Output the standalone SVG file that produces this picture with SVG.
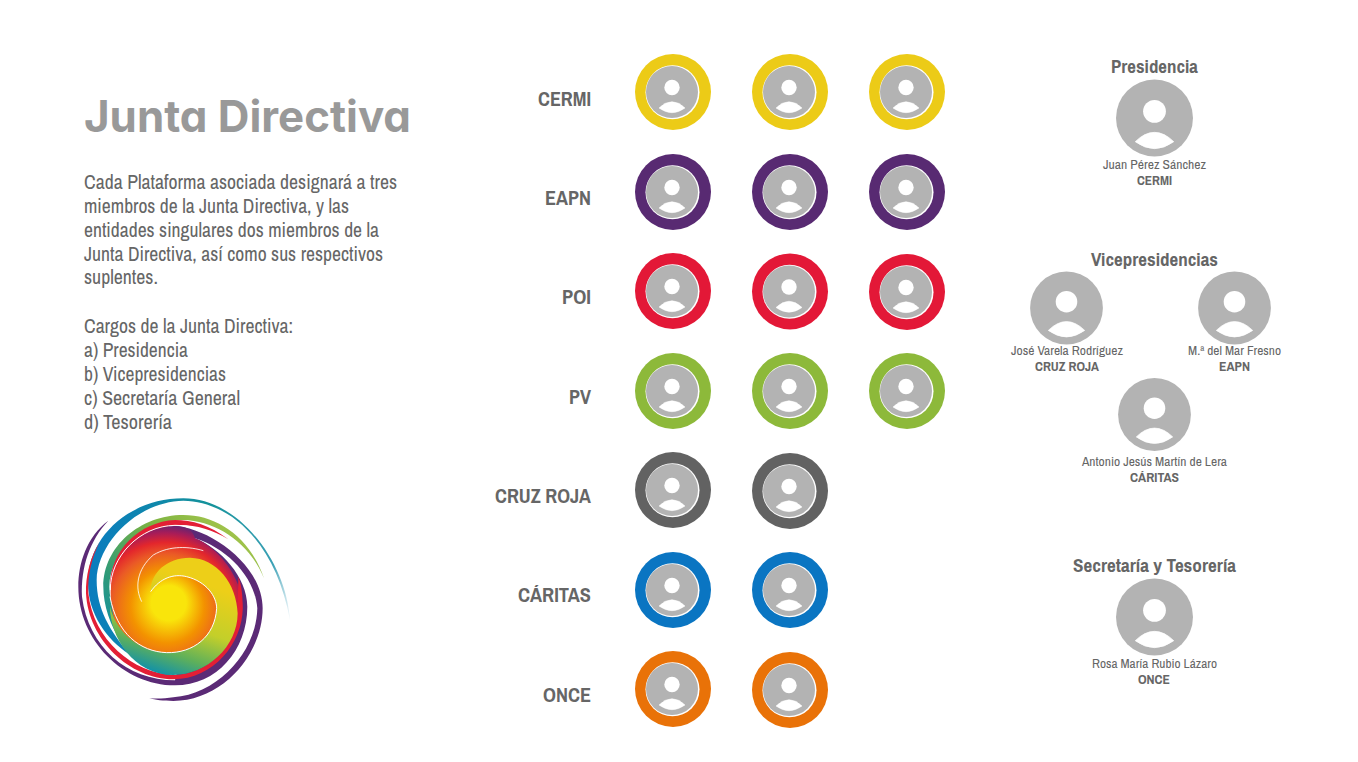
<svg xmlns="http://www.w3.org/2000/svg" xmlns:xlink="http://www.w3.org/1999/xlink" width="1358" height="762" viewBox="0 0 1358 762">
<style>
text{font-family:"Liberation Sans Narrow","Archivo Narrow","Liberation Sans",sans-serif;fill:#666}
.t{font-family:Inter,"Liberation Sans",sans-serif;font-weight:700;font-size:44px;fill:#999;font-variant-ligatures:none;font-feature-settings:"cv11"}
.b{font-size:20px}
.l{font-size:20px;font-weight:700}
.h{font-size:18.5px;font-weight:700}
.n{font-size:12.5px}
.o{font-size:12.5px;font-weight:700}
.g{fill:#b3b3b3}
.w{fill:#fff}
.y{fill:#eccb17}.p{fill:#582a72}.r{fill:#e31837}.v{fill:#8db93a}.d{fill:#626262}.a{fill:#0a75c2}.e{fill:#e97208}
</style>
<defs>
<g id="av"><circle class="g" r="26"/><circle class="w" cy="-4.500" r="7.700"/><path class="w" stroke="#fff" stroke-width=".5" d="M-13,16Q0,3.400 13,16Q0,25.400 -13,16Z"/></g>
<g id="ring"><circle class="w" cx="-.5" cy=".3" r="27"/><use xlink:href="#av" x="-1"/></g>
<radialGradient id="core" gradientUnits="userSpaceOnUse" cx="310" cy="410" r="290" fx="330" fy="360"><stop offset=".18" stop-color="#f9e50b"/><stop offset=".38" stop-color="#f39200"/><stop offset=".58" stop-color="#ea5a26"/><stop offset=".72" stop-color="#e3262c"/><stop offset=".84" stop-color="#a81c58"/><stop offset=".95" stop-color="#5e2574"/></radialGradient>
<linearGradient id="sw" gradientUnits="userSpaceOnUse" x1="400" y1="300" x2="300" y2="590"><stop offset="0" stop-color="#edcf18"/><stop offset=".45" stop-color="#c3cf2a"/><stop offset=".75" stop-color="#5fb05a"/><stop offset="1" stop-color="#0a8eb0"/></linearGradient>
<linearGradient id="bl" gradientUnits="userSpaceOnUse" x1="100" y1="300" x2="690" y2="350"><stop offset="0" stop-color="#0a7dbd"/><stop offset=".55" stop-color="#14929a"/><stop offset=".9" stop-color="#3aa0b5"/><stop offset="1" stop-color="#e6f2f7"/></linearGradient>
<linearGradient id="gr" gradientUnits="userSpaceOnUse" x1="170" y1="540" x2="500" y2="150"><stop offset="0" stop-color="#0a8eb0"/><stop offset=".35" stop-color="#2f9a78"/><stop offset=".75" stop-color="#7cb342"/><stop offset="1" stop-color="#9ec24a"/></linearGradient>
</defs>
<rect width="1358" height="762" fill="#fff"/>
<g id="intro">
<text class="t" x="84" y="132" textLength="327" lengthAdjust="spacingAndGlyphs">Junta Directiva</text>
<text class="b" x="84" y="189.200" textLength="313" lengthAdjust="spacingAndGlyphs">Cada Plataforma asociada designará a tres</text>
<text class="b" x="84" y="213" textLength="265" lengthAdjust="spacingAndGlyphs">miembros de la Junta Directiva, y las</text>
<text class="b" x="84" y="236.800" textLength="295" lengthAdjust="spacingAndGlyphs">entidades singulares dos miembros de la</text>
<text class="b" x="84" y="260.600" textLength="299" lengthAdjust="spacingAndGlyphs">Junta Directiva, así como sus respectivos</text>
<text class="b" x="84" y="284.400" textLength="74" lengthAdjust="spacingAndGlyphs">suplentes.</text>
<text class="b" x="84" y="333" textLength="209" lengthAdjust="spacingAndGlyphs">Cargos de la Junta Directiva:</text>
<text class="b" x="84" y="357" textLength="104" lengthAdjust="spacingAndGlyphs">a) Presidencia</text>
<text class="b" x="84" y="381" textLength="142" lengthAdjust="spacingAndGlyphs">b) Vicepresidencias</text>
<text class="b" x="84" y="405" textLength="156" lengthAdjust="spacingAndGlyphs">c) Secretaría General</text>
<text class="b" x="84" y="429" textLength="88" lengthAdjust="spacingAndGlyphs">d) Tesorería</text>
</g>
<g id="logo" transform="translate(60 480) scale(.3333)">
<path fill="url(#bl)" d="M690,420C680,250 540,55 370,55C200,55 80,180 84,310C84,400 140,480 207,522C150,450 110,390 110,300C112,190 230,65 370,62C520,65 650,200 690,420Z"/>
<path fill="url(#gr)" d="M612,295C570,170 470,105 370,105C240,105 130,200 130,320C130,430 210,570 340,590C240,520 150,430 148,320C150,210 260,122 370,120C470,122 570,190 612,295Z"/>
<path fill="#5b2a76" d="M145,122C80,170 55,250 55,320C55,480 190,616 345,616C470,616 562,510 562,380C562,290 480,205 405,175L420,300L345,601C200,600 85,500 66,350C62,260 90,180 145,122Z"/>
<path fill="#5b2a76" d="M340,138C440,140 608,250 608,385C608,520 490,663 340,663C310,663 285,660 268,655C290,656 315,656 340,652C480,640 590,510 592,385C585,290 500,205 405,175L340,170Z"/>
<path fill="#e31f35" d="M505,178C450,135 395,120 345,120C240,125 150,210 150,320L175,320C180,220 260,140 360,135C410,135 460,150 505,178Z"/>
<path fill="url(#core)" d="M152,340C150,230 240,138 345,138C380,138 400,150 405,175C470,200 548,290 548,385C540,500 440,580 340,580C220,570 152,450 152,340Z"/>
<path fill="#e31f35" d="M120,185C90,230 76,290 78,340C85,480 210,598 340,598C460,598 548,490 548,385C548,345 545,315 535,290C535,320 533,360 533,400C530,500 440,585 340,585C220,580 100,480 85,340C82,290 95,230 120,185Z"/>
<path fill="url(#sw)" d="M272,335C300,295 340,280 380,290C440,305 470,350 470,385C465,470 400,520 320,518C240,515 170,460 150,380C150,470 220,585 340,585C440,585 533,500 533,400C530,310 470,235 390,233C320,233 270,280 272,335Z"/>
<path fill="none" stroke="#fff" stroke-width="3" d="M272,335C300,295 340,280 380,290C440,305 470,350 470,385C465,470 400,520 320,518C240,515 170,460 150,350"/>
<path fill="none" stroke="#fff" stroke-width="2.500" d="M245,365C225,325 228,270 280,225C330,195 390,200 430,212"/>
<path fill="none" stroke="#fff" stroke-width="3" d="M151,330C150,230 240,137 345,136C375,136 395,140 420,148"/>
</g>
<g id="labels">
<text class="l" x="538" y="106" textLength="53" lengthAdjust="spacingAndGlyphs">CERMI</text>
<text class="l" x="545" y="205" textLength="46" lengthAdjust="spacingAndGlyphs">EAPN</text>
<text class="l" x="562" y="304" textLength="29" lengthAdjust="spacingAndGlyphs">POI</text>
<text class="l" x="569" y="404" textLength="22" lengthAdjust="spacingAndGlyphs">PV</text>
<text class="l" x="495" y="503" textLength="96" lengthAdjust="spacingAndGlyphs">CRUZ ROJA</text>
<text class="l" x="518" y="602" textLength="73" lengthAdjust="spacingAndGlyphs">CÁRITAS</text>
<text class="l" x="543" y="702" textLength="48" lengthAdjust="spacingAndGlyphs">ONCE</text>
</g>
<g id="cermi"><circle class="y" cx="673" cy="92" r="38"/><use xlink:href="#ring" x="673" y="92"/><circle class="y" cx="790" cy="92" r="38"/><use xlink:href="#ring" x="790" y="92"/><circle class="y" cx="907" cy="92" r="38"/><use xlink:href="#ring" x="907" y="92"/></g>
<g id="eapn"><circle class="p" cx="673" cy="192" r="38"/><use xlink:href="#ring" x="673" y="192"/><circle class="p" cx="790" cy="192" r="38"/><use xlink:href="#ring" x="790" y="192"/><circle class="p" cx="907" cy="192" r="38"/><use xlink:href="#ring" x="907" y="192"/></g>
<g id="poi"><circle class="r" cx="673" cy="291" r="38"/><use xlink:href="#ring" x="673" y="291"/><circle class="r" cx="790" cy="291.500" r="38"/><use xlink:href="#ring" x="790" y="291.500"/><circle class="r" cx="907" cy="292" r="38"/><use xlink:href="#ring" x="907" y="292"/></g>
<g id="pv"><circle class="v" cx="673" cy="391" r="38"/><use xlink:href="#ring" x="673" y="391"/><circle class="v" cx="790" cy="391" r="38"/><use xlink:href="#ring" x="790" y="391"/><circle class="v" cx="907" cy="391" r="38"/><use xlink:href="#ring" x="907" y="391"/></g>
<g id="cruzroja"><circle class="d" cx="673" cy="490" r="38"/><use xlink:href="#ring" x="673" y="490"/><circle class="d" cx="790" cy="491" r="38"/><use xlink:href="#ring" x="790" y="491"/></g>
<g id="caritas"><circle class="a" cx="673" cy="590" r="38"/><use xlink:href="#ring" x="673" y="590"/><circle class="a" cx="790" cy="590" r="38"/><use xlink:href="#ring" x="790" y="590"/></g>
<g id="once"><circle class="e" cx="673" cy="689" r="38"/><use xlink:href="#ring" x="673" y="689"/><circle class="e" cx="790" cy="690" r="38"/><use xlink:href="#ring" x="790" y="690"/></g>
<g id="presidencia">
<text class="h" x="1111" y="73" textLength="87" lengthAdjust="spacingAndGlyphs">Presidencia</text>
<use xlink:href="#av" transform="translate(1154.500 118) scale(1.48)"/>
<text class="n" x="1103" y="169" textLength="103" lengthAdjust="spacingAndGlyphs">Juan Pérez Sánchez</text>
<text class="o" x="1137" y="185" textLength="35" lengthAdjust="spacingAndGlyphs">CERMI</text>
</g>
<g id="vicepresidencias">
<text class="h" x="1091" y="266" textLength="127" lengthAdjust="spacingAndGlyphs">Vicepresidencias</text>
<use xlink:href="#av" transform="translate(1066.500 308) scale(1.4)"/>
<text class="n" x="1011" y="355" textLength="112" lengthAdjust="spacingAndGlyphs">José Varela Rodríguez</text>
<text class="o" x="1035" y="371" textLength="64" lengthAdjust="spacingAndGlyphs">CRUZ ROJA</text>
<use xlink:href="#av" transform="translate(1234.500 308) scale(1.4)"/>
<text class="n" x="1188" y="355" textLength="93" lengthAdjust="spacingAndGlyphs">M.ª del Mar Fresno</text>
<text class="o" x="1219" y="371" textLength="31" lengthAdjust="spacingAndGlyphs">EAPN</text>
<use xlink:href="#av" transform="translate(1154.500 414.500) scale(1.4)"/>
<text class="n" x="1082" y="466" textLength="145" lengthAdjust="spacingAndGlyphs">Antonio Jesús Martín de Lera</text>
<text class="o" x="1130" y="482" textLength="49" lengthAdjust="spacingAndGlyphs">CÁRITAS</text>
</g>
<g id="secretaria">
<text class="h" x="1073" y="572" textLength="163" lengthAdjust="spacingAndGlyphs">Secretaría y Tesorería</text>
<use xlink:href="#av" transform="translate(1154.500 617) scale(1.48)"/>
<text class="n" x="1092" y="668" textLength="125" lengthAdjust="spacingAndGlyphs">Rosa María Rubio Lázaro</text>
<text class="o" x="1138" y="684" textLength="32" lengthAdjust="spacingAndGlyphs">ONCE</text>
</g>
</svg>
